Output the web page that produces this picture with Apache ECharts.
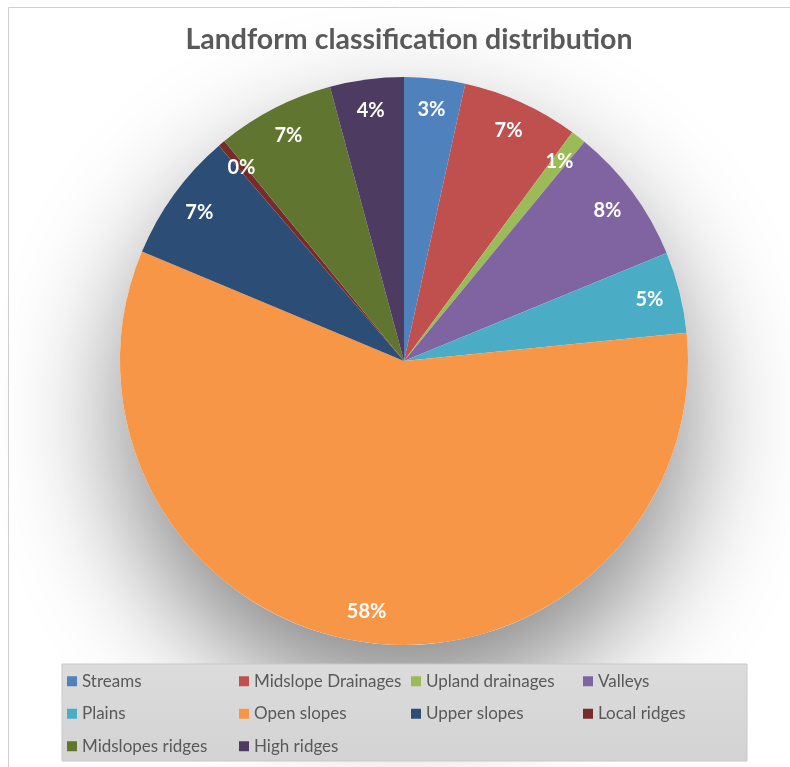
<!DOCTYPE html>
<html>
<head>
<meta charset="utf-8">
<title>Landform classification distribution</title>
<script src="https://cdn.jsdelivr.net/npm/echarts@6/dist/echarts.min.js"></script>
<style>
  html, body { margin: 0; padding: 0; background: #ffffff; }
  #chart { width: 790px; height: 767px; }
</style>
</head>
<body>
<div id="chart"></div>
<script>
// Share of the study area per landform class (percent of total area)
const categories = [
  'Streams', 'Midslope Drainages', 'Upland drainages', 'Valleys', 'Plains',
  'Open slopes', 'Upper slopes', 'Local ridges', 'Midslopes ridges', 'High ridges'
];
const shares = [3.46, 6.64, 0.86, 7.83, 4.63, 57.88, 7.4, 0.4, 6.7, 4.2];
const sliceColors = [
  '#4f81bd', '#c0504d', '#9bbb59', '#8064a2', '#4bacc6',
  '#f79646', '#2c4d75', '#772c2a', '#5f7530', '#4d3b62'
];
const chartTitle = 'Landform classification distribution';

const FONT = 'Lato, "Open Sans", "Liberation Sans", sans-serif';
const CENTER = [404, 361];
const RADIUS = 284;

const sliceData = categories.map((name, i) => ({
  name: name,
  value: shares[i],
  itemStyle: { color: sliceColors[i] }
}));

const chart = echarts.init(document.getElementById('chart'), null, { renderer: 'canvas' });

chart.setOption({
  animation: false,
  backgroundColor: '#ffffff',
  title: {
    text: chartTitle,
    left: 404,
    textAlign: 'center',
    top: 20,
    textStyle: {
      fontFamily: FONT,
      fontSize: 28.5,
      fontWeight: 'bold',
      color: '#595959'
    }
  },
  legend: {
    data: categories,
    left: 67,
    top: 665,
    width: 700,
    padding: 0,
    itemGap: 0,
    itemWidth: 10,
    itemHeight: 10,
    icon: 'rect',
    selectedMode: false,
    z: 6,
    textStyle: {
      fontFamily: FONT,
      fontSize: 17,
      color: '#595959',
      width: 157,
      lineHeight: 32.5
    }
  },
  graphic: [
    {
      // outer chart frame
      type: 'rect',
      z: 0,
      silent: true,
      shape: { x: 8.5, y: 7.5, width: 800, height: 800 },
      style: { fill: 'none', stroke: '#d0d0d0', lineWidth: 1 }
    },
    {
      // legend panel
      type: 'rect',
      z: 4,
      silent: true,
      shape: { x: 62, y: 664, width: 685, height: 97 },
      style: {
        fill: new echarts.graphic.LinearGradient(0, 0, 0, 1, [
          { offset: 0, color: '#dcdcdc' },
          { offset: 1, color: '#d3d3d3' }
        ]),
        stroke: '#c8c8c8',
        lineWidth: 1
      }
    }
  ],
  series: [
    {
      // soft drop shadow beneath the pie
      type: 'pie',
      name: 'shadow',
      silent: true,
      z: 1,
      center: CENTER,
      radius: [0, RADIUS],
      label: { show: false },
      labelLine: { show: false },
      emphasis: { disabled: true },
      data: [{
        name: '',
        value: 1,
        itemStyle: {
          color: '#ffffff',
          shadowBlur: 120,
          shadowOffsetY: 55,
          shadowColor: 'rgba(0,0,0,0.48)'
        }
      }]
    },
    {
      type: 'pie',
      name: 'Landform',
      z: 2,
      center: CENTER,
      radius: [0, RADIUS],
      startAngle: 90,
      clockwise: true,
      label: { show: false },
      labelLine: { show: false },
      emphasis: { scale: false },
      itemStyle: { borderWidth: 0 },
      data: sliceData
    },
    {
      // percentage labels, placed in the outer ring of each slice
      type: 'pie',
      name: 'Landform labels',
      silent: true,
      z: 3,
      center: CENTER,
      radius: [216, RADIUS],
      startAngle: 90,
      clockwise: true,
      itemStyle: { color: 'rgba(0,0,0,0)', borderWidth: 0 },
      emphasis: { disabled: true },
      labelLine: { show: false },
      label: {
        show: true,
        position: 'inside',
        formatter: p => Math.round(p.percent) + '%',
        fontFamily: FONT,
        fontSize: 20,
        fontWeight: 'bold',
        color: '#ffffff'
      },
      data: categories.map((name, i) => ({ name: name, value: shares[i] }))
    }
  ]
});
</script>
</body>
</html>
